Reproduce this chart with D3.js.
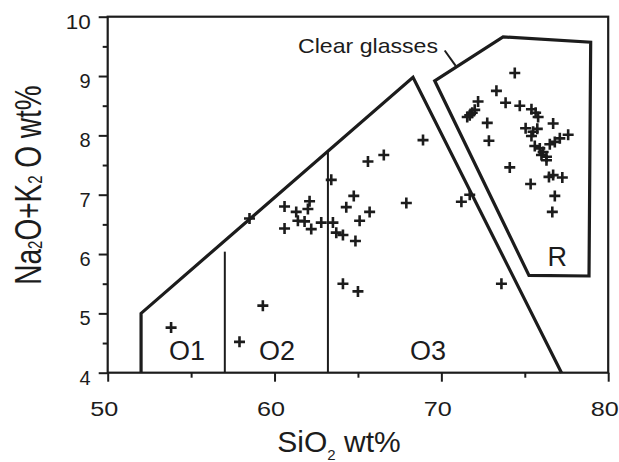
<!DOCTYPE html>
<html>
<head>
<meta charset="utf-8">
<script src="https://cdn.jsdelivr.net/npm/d3@7"></script>
<style>
  html, body { margin: 0; padding: 0; background: #fff; }
  svg { display: block; }
  text { font-family: "Liberation Sans", Arial, Helvetica, sans-serif; fill: #1c1c1c; }
</style>
</head>
<body>
<svg id="chart" width="619" height="462"></svg>
<script>
// Sample analyses: SiO2 wt% and total alkalis (Na2O + K2O) wt%
const silica = [
  53.8, 57.9, 59.3, 58.5, 60.6, 60.6, 61.3, 61.4, 61.8, 62.1, 62.0, 62.2, 62.8,
  63.4, 63.5, 63.7, 64.1, 64.85, 65.1, 64.3, 64.75, 65.7, 64.1, 65.0, 65.6, 66.55,
  67.9, 68.9, 71.2, 71.7, 73.6,
  74.4, 73.3, 73.85, 72.2, 72.0, 71.85, 71.7, 71.55, 72.75, 72.85, 74.7, 75.4,
  75.65, 75.8, 76.7, 75.05, 75.5, 75.75, 75.4, 77.6, 77.1, 76.8, 76.5, 75.6,
  75.9, 76.1, 76.0, 76.3, 76.3, 74.1, 76.45, 76.7, 77.25, 75.35, 76.8, 76.65
];
const alkalis = [
  4.76, 4.52, 5.13, 6.60, 6.80, 6.43, 6.71, 6.56, 6.55, 6.89, 6.76, 6.42, 6.53,
  7.25, 6.53, 6.36, 6.32, 6.22, 6.56, 6.79, 6.98, 6.71, 5.50, 5.37, 7.56, 7.67,
  6.86, 7.92, 6.88, 7.00, 5.50,
  9.05, 8.75, 8.55, 8.57, 8.43, 8.38, 8.34, 8.31, 8.21, 7.91, 8.50, 8.44,
  8.38, 8.31, 8.20, 8.12, 8.06, 8.11, 7.99, 8.01, 7.95, 7.89, 7.85, 7.82,
  7.78, 7.72, 7.67, 7.64, 7.58, 7.46, 7.30, 7.33, 7.29, 7.18, 6.98, 6.71
];

// Field outlines in data units [SiO2, alkalis]
const oField = [[52.0, 4.0], [52.0, 5.0], [68.3, 8.98], [77.2, 4.0]];
const rField = [[69.6, 8.92], [73.7, 9.66], [78.95, 9.57], [78.85, 5.63], [75.25, 5.64]];
const dividers = [
  { x: 57.02, top: 6.04 },
  { x: 63.2, top: 7.74 }
];
const fieldLabels = [
  { text: "O1", x: 54.75, y: 4.22 },
  { text: "O2", x: 60.15, y: 4.22 },
  { text: "O3", x: 69.2, y: 4.22 },
  { text: "R",  x: 76.95, y: 5.80 }
];
const leader = [[70.2, 9.43], [70.86, 9.17]];
const xMajor = [50, 60, 70, 80];
const xMinor = [55, 65, 75];
const yMajor = [4, 5, 6, 7, 8, 9, 10];
const yMinor = [4.5, 5.5, 6.5, 7.5, 8.5, 9.5];

const svg = d3.select("#chart");
const ink = "#1c1c1c";
const fontStack = "\"Liberation Sans\", Arial, Helvetica, sans-serif";

const x = d3.scaleLinear().domain([50, 80]).range([107.7, 608.2]);
const y = d3.scaleLinear().domain([4, 10]).range([372.7, 16.7]);

// Frame
svg.append("rect")
  .attr("x", x(50)).attr("y", y(10))
  .attr("width", x(80) - x(50)).attr("height", y(4) - y(10))
  .attr("fill", "none").attr("stroke", ink).attr("stroke-width", 2.2);

// Axes
function styleAxis(g) {
  g.select(".domain").remove();
  g.selectAll(".tick line").attr("stroke", ink).attr("stroke-width", 2);
}
svg.append("g").attr("transform", `translate(0,${y(4)})`)
  .call(d3.axisBottom(x).tickValues(xMajor).tickSize(9).tickPadding(20).tickFormat(d3.format("d")))
  .call(styleAxis)
  .call(g => g.selectAll(".tick text")
    .attr("font-size", 20).attr("dx", -4)
    .attr("textLength", 28).attr("lengthAdjust", "spacingAndGlyphs")
    .attr("font-family", fontStack).attr("fill", ink));
svg.append("g").attr("transform", `translate(0,${y(4)})`)
  .call(d3.axisBottom(x).tickValues(xMinor).tickSize(5).tickFormat(""))
  .call(styleAxis);
svg.append("g").attr("transform", `translate(${x(50)},0)`)
  .call(d3.axisLeft(y).tickValues(yMajor).tickSize(9).tickPadding(8).tickFormat(d3.format("d")))
  .call(styleAxis)
  .call(g => g.selectAll(".tick text")
    .attr("font-size", 20).attr("y", 5)
    .attr("font-family", fontStack).attr("fill", ink))
  .call(g => g.selectAll(".tick text").filter(d => d >= 10)
    .attr("textLength", 25).attr("lengthAdjust", "spacingAndGlyphs"));
svg.append("g").attr("transform", `translate(${x(50)},0)`)
  .call(d3.axisLeft(y).tickValues(yMinor).tickSize(5).tickFormat(""))
  .call(styleAxis);

// Fields
const line = d3.line().x(d => x(d[0])).y(d => y(d[1]));
svg.append("path").attr("d", line(oField))
  .attr("fill", "none").attr("stroke", ink).attr("stroke-width", 3.2).attr("stroke-linejoin", "miter");
svg.append("path").attr("d", line(rField) + "Z")
  .attr("fill", "none").attr("stroke", ink).attr("stroke-width", 3.2).attr("stroke-linejoin", "miter");
svg.selectAll(".divider").data(dividers).join("line")
  .attr("class", "divider")
  .attr("x1", d => x(d.x)).attr("x2", d => x(d.x))
  .attr("y1", y(4)).attr("y2", d => y(d.top))
  .attr("stroke", ink).attr("stroke-width", 2);

// Field names
svg.selectAll(".field").data(fieldLabels).join("text")
  .attr("class", "field")
  .attr("x", d => x(d.x)).attr("y", d => y(d.y))
  .attr("text-anchor", "middle").attr("font-size", 27)
  .text(d => d.text);

// Clear glasses label with leader
svg.append("path").attr("d", line(leader))
  .attr("stroke", ink).attr("stroke-width", 2).attr("fill", "none");
svg.append("text")
  .attr("x", x(69.8)).attr("y", 53)
  .attr("text-anchor", "end").attr("font-size", 21)
  .attr("textLength", 140).attr("lengthAdjust", "spacingAndGlyphs")
  .text("Clear glasses");

// Sample crosses
const arm = 5.5;
svg.append("g").selectAll("path").data(silica.map((s, i) => [s, alkalis[i]])).join("path")
  .attr("d", d => {
    const cx = x(d[0]), cy = y(d[1]);
    return `M${cx - arm},${cy}H${cx + arm}M${cx},${cy - arm}V${cy + arm}`;
  })
  .attr("stroke", ink).attr("stroke-width", 2.6).attr("fill", "none");

// Axis titles
const xt = svg.append("text")
  .attr("x", 339).attr("y", 452)
  .attr("text-anchor", "middle").attr("font-size", 30);
xt.append("tspan").text("SiO");
xt.append("tspan").attr("font-size", 15).attr("dy", 8).text("2");
xt.append("tspan").attr("dy", -8).text(" wt%");

const yt = svg.append("text")
  .attr("transform", "translate(41,185) rotate(-90) scale(1,1.3)")
  .attr("text-anchor", "middle").attr("font-size", 28);
yt.append("tspan").text("Na");
yt.append("tspan").attr("font-size", 15).attr("dy", 1).text("2");
yt.append("tspan").attr("dy", -1).text("O+K");
yt.append("tspan").attr("font-size", 15).attr("dy", 1).text("2");
yt.append("tspan").attr("dy", -1).text(" O wt%");
</script>
</body>
</html>
